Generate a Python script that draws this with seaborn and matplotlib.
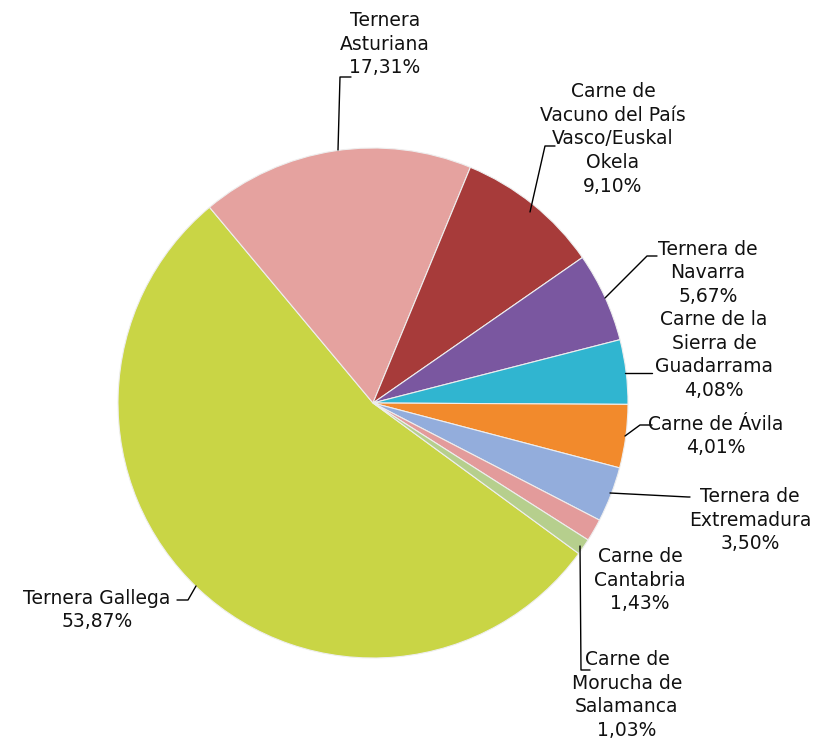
import matplotlib
matplotlib.use("Agg")
import matplotlib.pyplot as plt
import seaborn as sns

# ---- data ----
categories = ["Ternera Gallega", "Ternera Asturiana",
              "Carne de Vacuno del País Vasco/Euskal Okela",
              "Ternera de Navarra", "Carne de la Sierra de Guadarrama",
              "Carne de Ávila", "Ternera de Extremadura",
              "Carne de Cantabria", "Carne de Morucha de Salamanca"]
shares = [53.87, 17.31, 9.10, 5.67, 4.08, 4.01, 3.50, 1.43, 1.03]
label_texts = ["Ternera Gallega\n53,87%",
               "Ternera\nAsturiana\n17,31%",
               "Carne de\nVacuno del País\nVasco/Euskal\nOkela\n9,10%",
               "Ternera de\nNavarra\n5,67%",
               "Carne de la\nSierra de\nGuadarrama\n4,08%",
               "Carne de Ávila\n4,01%",
               "Ternera de\nExtremadura\n3,50%",
               "Carne de\nCantabria\n1,43%",
               "Carne de\nMorucha de\nSalamanca\n1,03%"]
colors = ["#c9d545", "#e5a29f", "#a73b3a", "#7a57a0", "#30b5d0",
          "#f28a2c", "#93addc", "#e39b9b", "#b6cf8d"]

sns.set_style("white")
plt.rcParams['font.family'] = ['DejaVu Sans']

W, H = 814, 747
fig = plt.figure(figsize=(W / 100, H / 100), dpi=100)
ax = fig.add_axes([0, 0, 1, 1])

def Y(y):
    return H - y

cx, cy, r = 373, Y(403), 255
palette = sns.color_palette(colors)
ax.pie(shares, colors=palette, startangle=323.8, counterclock=False,
       center=(cx, cy), radius=r, frame=True,
       wedgeprops=dict(edgecolor="#eeeeee", linewidth=0.8))
ax.set_xlim(0, W)
ax.set_ylim(0, H)
ax.set_aspect('equal')
ax.axis('off')

# label positions (text block centres, pixel coordinates)
label_pos = [(97, 610), (385, 44), (613, 139), (708, 273), (714, 355),
             (716, 436), (750, 520), (640, 580), (627, 695)]
for txt, (x, y) in zip(label_texts, label_pos):
    ax.text(x, Y(y), txt, ha='center', va='center', multialignment='center',
            fontsize=13.5, color='#111111', linespacing=1.33)

# leader lines
leaders = [
    [(177, 600), (188, 600), (196, 586)],
    [(351, 77), (340, 77), (338, 150)],
    [(555, 146), (545, 146), (530, 212)],
    [(657, 256), (647, 256), (605, 298)],
    [(652, 373), (625, 373)],
    [(652, 425), (640, 425), (625, 436)],
    [(690, 497), (688, 497), (610, 493)],
    [(590, 670), (581, 670), (580, 546)],
]
for pts in leaders:
    xs = [p[0] for p in pts]
    ys = [Y(p[1]) for p in pts]
    ax.plot(xs, ys, color='black', linewidth=1.0)

fig.savefig("out.png", dpi=100)
